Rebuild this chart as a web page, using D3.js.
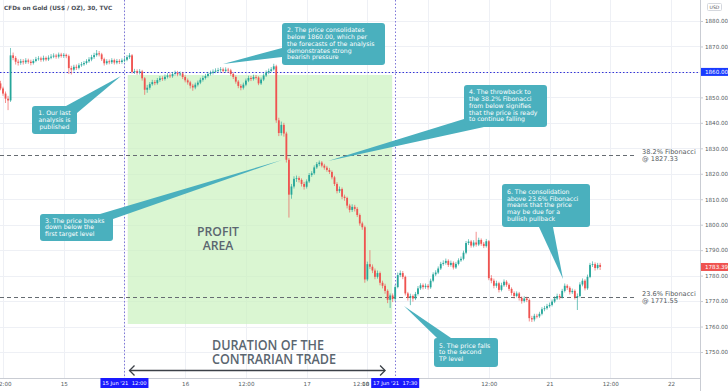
<!DOCTYPE html>
<html><head><meta charset="utf-8">
<script src="https://cdn.jsdelivr.net/npm/d3@7"></script>
<style>html,body{margin:0;padding:0;background:#fff;overflow:hidden}svg{display:block}</style>
</head><body><svg id="c" width="728" height="391"></svg>
<script>
// ---------- DATA ----------
const title = "CFDs on Gold (US$ / OZ), 30, TVC";
const startSlot = -1;          // half-hour slot of first candle (slot 0 = 14 Jun 12:00)
const firstOpen = 1855.5;
const closes = [
1853.5,1851.5,1849.5,1848.8,1866.5,1865.5,1864.0,1863.6,1864.2,1863.8,
1864.5,1864.0,1863.5,1864.3,1865.0,1865.3,1864.8,1865.5,1864.9,1865.6,
1866.0,1866.4,1866.0,1866.8,1866.3,1866.7,1866.2,1861.5,1860.9,1862.0,
1861.6,1862.6,1863.0,1863.5,1864.2,1864.9,1865.8,1866.6,1867.3,1866.9,
1865.0,1863.4,1864.2,1863.8,1864.6,1863.7,1864.3,1863.9,1864.5,1864.8,
1865.8,1866.5,1860.0,1860.3,1859.8,1860.2,1857.5,1853.0,1853.8,1855.2,
1856.0,1855.6,1856.8,1857.5,1857.2,1858.1,1858.6,1858.3,1859.2,1859.6,
1859.0,1859.4,1858.0,1856.7,1855.9,1854.6,1853.9,1855.0,1855.8,1856.9,
1857.6,1858.4,1859.2,1859.6,1860.1,1860.5,1860.7,1861.0,1860.4,1860.9,
1860.6,1859.2,1858.0,1856.2,1854.5,1853.8,1855.0,1856.6,1857.6,1857.2,
1858.0,1857.8,1855.5,1857.0,1858.6,1859.8,1860.4,1861.0,1862.2,1841.0,
1836.0,1839.2,1835.8,1825.5,1811.8,1815.0,1818.0,1818.3,1817.6,1816.0,
1814.9,1817.0,1819.5,1820.2,1822.5,1823.8,1824.4,1823.2,1822.4,1821.5,
1820.7,1818.6,1816.0,1813.2,1814.0,1811.0,1810.5,1807.5,1805.8,1807.0,
1806.2,1803.8,1800.5,1799.0,1778.5,1784.5,1783.5,1782.0,1779.5,1781.0,
1777.2,1776.0,1774.0,1770.5,1772.2,1770.8,1775.5,1780.2,1781.0,1779.5,
1773.0,1771.2,1772.0,1771.0,1772.8,1775.0,1776.2,1775.5,1776.0,1775.4,
1778.0,1780.5,1781.2,1782.8,1784.6,1785.0,1785.8,1784.2,1785.0,1783.2,
1784.6,1786.0,1786.6,1789.0,1792.8,1793.4,1791.8,1793.0,1792.2,1794.0,
1792.5,1791.6,1793.5,1779.0,1778.0,1776.0,1777.0,1774.4,1776.2,1777.6,
1776.4,1774.8,1773.2,1772.0,1773.0,1771.2,1770.0,1771.0,1770.4,1763.3,
1762.8,1764.2,1764.0,1765.0,1766.8,1767.2,1768.0,1768.5,1769.8,1771.0,
1772.0,1771.5,1774.0,1776.0,1775.2,1773.5,1774.0,1771.5,1772.0,1776.5,
1778.0,1775.0,1779.5,1784.2,1784.5,1783.0,1784.2,1783.4];
const highs = [
1856.5,1854.2,1852.3,1850.6,1869.4,1867.6,1866.2,1864.9,1865.1,1865.0,
1865.4,1865.2,1864.8,1865.0,1865.9,1866.2,1866.0,1866.4,1866.1,1866.5,
1867.0,1867.3,1867.1,1867.6,1867.5,1867.4,1867.2,1866.8,1862.4,1862.8,
1862.9,1863.4,1863.9,1864.3,1865.0,1865.8,1866.7,1867.5,1868.6,1868.2,
1867.5,1865.6,1865.0,1864.9,1865.4,1865.2,1865.1,1865.0,1865.3,1865.6,
1866.6,1867.4,1867.0,1861.2,1861.0,1861.1,1860.8,1858.0,1854.9,1856.0,
1856.9,1856.8,1857.6,1858.4,1858.3,1859.0,1859.5,1859.4,1860.0,1860.5,
1860.4,1860.2,1860.0,1858.7,1857.4,1856.5,1855.3,1855.8,1856.6,1857.7,
1858.5,1859.2,1860.0,1860.5,1861.0,1861.4,1861.6,1861.9,1861.7,1861.8,
1861.6,1861.2,1859.8,1858.6,1856.8,1855.2,1855.8,1857.4,1858.5,1858.4,
1858.9,1858.8,1858.3,1857.8,1859.4,1860.6,1861.3,1861.9,1863.2,1862.8,
1842.0,1840.5,1840.0,1836.5,1826.2,1816.0,1819.0,1819.3,1819.0,1818.2,
1816.8,1817.8,1820.3,1821.0,1823.3,1824.6,1825.2,1825.0,1823.9,1823.1,
1822.3,1821.3,1819.2,1816.7,1815.0,1814.6,1811.8,1811.0,1808.2,1808.0,
1807.8,1806.9,1804.4,1801.2,1799.6,1785.5,1790.0,1784.4,1782.8,1782.0,
1781.6,1778.0,1776.8,1774.6,1773.0,1773.0,1776.4,1781.2,1782.0,1781.8,
1780.0,1773.6,1772.9,1772.6,1773.6,1775.9,1777.0,1776.9,1776.9,1776.7,
1778.8,1781.3,1782.1,1783.6,1785.4,1786.0,1786.7,1786.4,1785.9,1785.6,
1785.4,1786.8,1787.5,1789.8,1793.6,1794.3,1794.0,1793.9,1797.2,1794.9,
1794.6,1793.2,1794.4,1794.0,1780.2,1778.8,1778.0,1777.6,1777.2,1778.5,
1778.2,1777.0,1775.4,1773.8,1773.8,1773.6,1771.8,1771.9,1771.7,1771.0,
1764.2,1765.0,1765.0,1765.8,1767.6,1768.1,1768.9,1769.4,1770.6,1771.9,
1772.9,1772.8,1774.8,1776.9,1776.6,1775.8,1774.9,1774.6,1773.0,1777.4,
1778.9,1778.6,1780.4,1785.0,1785.6,1785.2,1785.0,1785.0];
const lows = [
1852.8,1850.6,1847.8,1845.0,1848.2,1864.6,1862.9,1862.5,1862.8,1862.9,
1863.1,1863.2,1862.6,1862.9,1863.8,1864.4,1864.0,1864.1,1864.2,1864.3,
1865.0,1865.4,1865.2,1865.3,1865.6,1865.5,1865.4,1859.2,1859.0,1860.2,
1860.8,1861.0,1862.0,1862.4,1862.9,1863.6,1864.2,1865.1,1866.0,1866.1,
1864.3,1862.5,1862.8,1863.0,1863.1,1862.9,1863.0,1863.1,1863.2,1863.8,
1864.2,1865.1,1859.4,1859.2,1858.9,1859.0,1856.6,1851.0,1851.8,1853.0,
1854.6,1854.8,1855.0,1856.1,1856.5,1856.6,1857.4,1857.6,1857.7,1858.6,
1858.3,1858.4,1857.2,1855.9,1855.0,1853.5,1852.6,1853.2,1854.3,1855.2,
1856.2,1857.0,1857.8,1858.6,1859.0,1859.5,1859.8,1860.0,1859.6,1859.8,
1859.7,1858.5,1857.2,1855.4,1853.6,1852.8,1853.1,1854.4,1856.0,1856.4,
1856.6,1857.0,1854.8,1854.9,1856.4,1858.0,1859.1,1859.8,1860.5,1840.0,
1834.8,1835.0,1834.6,1824.4,1802.8,1810.2,1814.2,1816.8,1816.6,1815.0,
1813.8,1814.2,1816.4,1818.8,1819.6,1821.9,1823.0,1822.5,1821.6,1820.8,
1819.9,1817.8,1815.2,1812.3,1812.5,1810.0,1809.4,1806.4,1804.8,1805.0,
1805.2,1803.0,1799.6,1798.0,1777.2,1777.8,1782.6,1781.0,1778.6,1778.8,
1776.2,1775.0,1772.9,1769.2,1767.3,1769.6,1770.0,1775.0,1779.4,1778.6,
1772.2,1770.2,1768.4,1769.8,1770.4,1772.2,1774.4,1774.6,1774.8,1774.5,
1774.8,1777.4,1779.8,1780.6,1782.2,1783.9,1784.3,1783.4,1783.5,1782.4,
1782.6,1784.0,1785.4,1786.0,1788.4,1792.0,1791.0,1791.1,1791.4,1791.6,
1791.7,1790.8,1791.0,1778.2,1777.0,1775.0,1775.2,1773.4,1773.8,1775.6,
1775.6,1774.0,1772.2,1771.0,1771.4,1770.2,1769.0,1769.4,1769.6,1762.0,
1761.8,1762.0,1763.2,1763.4,1764.4,1766.0,1766.6,1767.4,1767.9,1769.2,
1770.4,1770.6,1771.0,1773.4,1774.4,1772.6,1772.8,1770.6,1766.5,1771.4,
1775.8,1774.2,1774.4,1779.0,1783.4,1782.0,1782.4,1782.2];
const lastPrice = 1783.39;
const yTicks = [1750,1760,1770,1780,1790,1800,1810,1820,1830,1840,1850,1860,1870,1880];
const xTickSlots  = [0,24,48,72,96,120,144,168,192,216,240,264];
const xTickLabels = ["12:00","15","12:00","16","12:00","17","12:00","18","12:00","21","12:00","22"];
const markers = [{slot:48,label:"15 Jun '21  12:00"},{slot:155,label:"17 Jun '21  17:30"}];
const level1860 = 1860.00;
const fibLevels = [{v:1827.33,t1:"38.2% Fibonacci",t2:"@ 1827.33"},{v:1771.55,t1:"23.6% Fibonacci",t2:"@ 1771.55"}];
const profitArea = {s0:49.3, s1:153.8, top:1858.8, bottom:1761.0};
const notes = [
 {box:[32,106,45,28], lines:["1. Our last","analysis is","published"], anchor:"middle", tip:[121,76], base:[[66,106],[77,113]]},
 {box:[282,23,103,42], lines:["2. The price consolidates","below 1860.00, which per","the forecasts of the analysis","demonstrates strong","bearish pressure"], anchor:"start", tip:[223,64], base:[[282,48],[282,57]]},
 {box:[40,214,73,27], lines:["3. The price breaks","down below the","first target level"], anchor:"start", tip:[282,160], base:[[100,214],[113,219]]},
 {box:[464,85,83,42], lines:["4. The throwback to","the 38.2% Fibonacci","from below signifies","that the price is ready","to continue falling"], anchor:"start", tip:[328,161], base:[[464,119],[484,127]]},
 {box:[434,338,64,29], lines:["5. The price falls","to the second","TP level"], anchor:"start", tip:[404,306], base:[[437,338],[451,338]]},
 {box:[502,184,88,43], lines:["6. The consolidation","above 23.6% Fibonacci","means that the price","may be due for a","bullish pullback"], anchor:"start", tip:[563,279], base:[[539,227],[553,227]]}
];

// ---------- CHART ----------
const svg = d3.select("#c");
const W = 728, H = 391, axisX = 700, axisY = 378;
const x = d3.scaleLinear().domain([0, 264]).range([3, 671]);
const y = d3.scaleLinear().domain([1750, 1880]).range([352, 21]);
const candles = closes.map((c,i)=>({slot:startSlot+i, o: i===0?firstOpen:closes[i-1], h:highs[i], l:lows[i], c}));

const plot = svg.append("g");
// grid
plot.selectAll("line.gv").data(xTickSlots).join("line")
  .attr("x1",d=>Math.round(x(d))+0.5).attr("x2",d=>Math.round(x(d))+0.5)
  .attr("y1",0).attr("y2",axisY).attr("stroke","#eef0f5").attr("stroke-width",1);
plot.selectAll("line.gh").data(yTicks).join("line")
  .attr("x1",0).attr("x2",axisX).attr("y1",d=>Math.round(y(d))+0.5).attr("y2",d=>Math.round(y(d))+0.5)
  .attr("stroke","#eef0f5").attr("stroke-width",1);

// profit area
plot.append("rect")
  .attr("x",x(profitArea.s0)).attr("y",y(profitArea.top))
  .attr("width",x(profitArea.s1)-x(profitArea.s0)).attr("height",y(profitArea.bottom)-y(profitArea.top))
  .attr("fill","#c8f2bd").attr("opacity",0.68);

// fib lines
fibLevels.forEach(f=>{
  plot.append("line").attr("x1",0).attr("x2",637).attr("y1",Math.round(y(f.v))+0.5).attr("y2",Math.round(y(f.v))+0.5)
    .attr("stroke","#666c72").attr("stroke-width",1).attr("stroke-dasharray","4,3");
  const t = plot.append("text").attr("x",642).attr("font-family","DejaVu Sans").attr("font-size",6.6).attr("fill","#555b62");
  t.append("tspan").attr("x",642).attr("y",y(f.v)-1).text(f.t1);
  t.append("tspan").attr("x",642).attr("y",y(f.v)+5.6).text(f.t2);
});

// vertical marker lines
markers.forEach(m=>{
  plot.append("line").attr("x1",Math.round(x(m.slot))+0.5).attr("x2",Math.round(x(m.slot))+0.5).attr("y1",0).attr("y2",axisY)
    .attr("stroke","#7f78d8").attr("stroke-width",1).attr("stroke-dasharray","1.5,2");
});
// 1860 line
plot.append("line").attr("x1",0).attr("x2",axisX).attr("y1",Math.round(y(level1860))+0.5).attr("y2",Math.round(y(level1860))+0.5)
  .attr("stroke","#3434d8").attr("stroke-width",1).attr("stroke-dasharray","1.5,2");

// candles
const up="#26a69a", dn="#ef5350";
const cg = plot.append("g");
cg.selectAll("line").data(candles).join("line")
  .attr("x1",d=>x(d.slot)).attr("x2",d=>x(d.slot)).attr("y1",d=>y(d.h)).attr("y2",d=>y(d.l))
  .attr("stroke",d=>d.c>=d.o?up:dn).attr("stroke-width",0.8).attr("opacity",0.8);
cg.selectAll("rect").data(candles).join("rect")
  .attr("x",d=>x(d.slot)-0.9).attr("width",1.8)
  .attr("y",d=>y(Math.max(d.o,d.c))).attr("height",d=>Math.max(0.8,Math.abs(y(d.o)-y(d.c))))
  .attr("fill",d=>d.c>=d.o?up:dn);

// axes
svg.append("line").attr("x1",axisX+0.5).attr("x2",axisX+0.5).attr("y1",0).attr("y2",H).attr("stroke","#c9ccd3");
svg.append("line").attr("x1",0).attr("x2",axisX).attr("y1",axisY+0.5).attr("y2",axisY+0.5).attr("stroke","#c9ccd3");
const ya = svg.append("g").attr("transform",`translate(${axisX},0)`)
  .call(d3.axisRight(y).tickValues(yTicks).tickFormat(d3.format(".2f")).tickSize(3).tickPadding(2));
ya.select(".domain").remove();
ya.selectAll("line").attr("stroke","#c9ccd3");
ya.selectAll("text").attr("font-family","DejaVu Sans").attr("font-size",5.6).attr("fill","#555b62");

// x tick labels: those hidden under a marker box are not drawn, partly covered ones are nudged left
const markerSlots = markers.map(m=>m.slot);
const xa = svg.append("g").attr("transform",`translate(0,${axisY})`)
  .call(d3.axisBottom(x).tickValues(xTickSlots)
    .tickFormat((d,i)=> markerSlots.some(s=>Math.abs(x(s)-x(d))<12) ? "" : xTickLabels[i])
    .tickSize(0).tickPadding(4.5));
xa.select(".domain").remove();
xa.selectAll("text").attr("font-family","DejaVu Sans").attr("font-size",5.6).attr("fill","#555b62")
  .each(function(d){
    const near = markerSlots.find(s=>Math.abs(x(s)-x(d))>=12 && Math.abs(x(s)-x(d))<40);
    if(near!==undefined){ d3.select(this).attr("text-anchor","end").attr("x", x(near)-24-x(d)-2.5); }
  });

// marker labels on x axis
markers.forEach(m=>{
  const cx = x(m.slot);
  svg.append("rect").attr("x",cx-24).attr("y",axisY).attr("width",48).attr("height",10).attr("fill","#1a1aff");
  svg.append("text").attr("x",cx).attr("y",axisY+7).attr("text-anchor","middle").attr("font-family","DejaVu Sans")
    .attr("font-size",5.2).attr("fill","#fff").attr("xml:space","preserve").text(m.label);
});
// price labels
function priceTag(v,col){
  svg.append("rect").attr("x",axisX+1).attr("y",y(v)-4).attr("width",27).attr("height",8).attr("fill",col);
  svg.append("text").attr("x",axisX+5).attr("y",y(v)+2).attr("font-family","DejaVu Sans").attr("font-size",5.6).attr("fill","#fff").text(d3.format(".2f")(v));
}
priceTag(level1860,"#1a3cff");
priceTag(lastPrice,"#ef5350");
// USD
svg.append("rect").attr("x",707.5).attr("y",3.5).attr("width",14).attr("height",7).attr("fill","#fff").attr("stroke","#d5d8de").attr("rx",1);
svg.append("text").attr("x",714.5).attr("y",8.8).attr("text-anchor","middle").attr("font-family","DejaVu Sans").attr("font-size",4.6).attr("fill","#555").text("USD");

// title
svg.append("text").attr("x",4).attr("y",9.5).attr("font-family","DejaVu Sans").attr("font-size",5.8).attr("font-weight","bold").attr("fill","#4a4f57").text(title);

// big texts
svg.append("text").attr("x",218).attr("y",236).attr("text-anchor","middle").attr("font-family","Open Sans").attr("font-weight",600)
  .attr("font-size",12.2).attr("fill","#5b6670").text("PROFIT");
svg.append("text").attr("x",218).attr("y",249.5).attr("text-anchor","middle").attr("font-family","Open Sans").attr("font-weight",600)
  .attr("font-size",12.2).attr("fill","#5b6670").text("AREA");
svg.append("text").attr("x",212).attr("y",350).attr("font-family","Open Sans").attr("font-weight",600).attr("font-size",13.8)
  .attr("fill","#5b6670").attr("textLength",112).attr("lengthAdjust","spacingAndGlyphs").text("DURATION OF THE");
svg.append("text").attr("x",212).attr("y",364).attr("font-family","Open Sans").attr("font-weight",600).attr("font-size",13.8)
  .attr("fill","#5b6670").attr("textLength",124).attr("lengthAdjust","spacingAndGlyphs").text("CONTRARIAN TRADE");
// duration arrow
const ay = 370.5;
svg.append("line").attr("x1",x(50)).attr("x2",x(151)).attr("y1",ay).attr("y2",ay).attr("stroke","#3c4148").attr("stroke-width",1.3);
svg.append("path").attr("d",`M${x(50)+5},${ay-5} L${x(50)},${ay} L${x(50)+5},${ay+5}`).attr("fill","none").attr("stroke","#3c4148").attr("stroke-width",1.3);
svg.append("path").attr("d",`M${x(151)-5},${ay-5} L${x(151)},${ay} L${x(151)-5},${ay+5}`).attr("fill","none").attr("stroke","#3c4148").attr("stroke-width",1.3);

// callouts
const teal = "#4ab0be";
notes.forEach(n=>{
  const [bx,by,bw,bh] = n.box;
  svg.append("polygon").attr("points",[n.tip,n.base[0],n.base[1]].map(p=>p.join(",")).join(" ")).attr("fill",teal);
  svg.append("rect").attr("x",bx).attr("y",by).attr("width",bw).attr("height",bh).attr("rx",3).attr("fill",teal);
  const lh = 6.7;
  const y0 = by + (bh - lh*n.lines.length)/2 + 5.2;
  const tx = n.anchor==="middle" ? bx+bw/2 : bx+5;
  const t = svg.append("text").attr("font-family","DejaVu Sans").attr("font-size",6.2).attr("fill","#fff").attr("text-anchor",n.anchor);
  n.lines.forEach((s,i)=>t.append("tspan").attr("x",tx).attr("y",y0+i*lh).text(s));
});
</script></body></html>
